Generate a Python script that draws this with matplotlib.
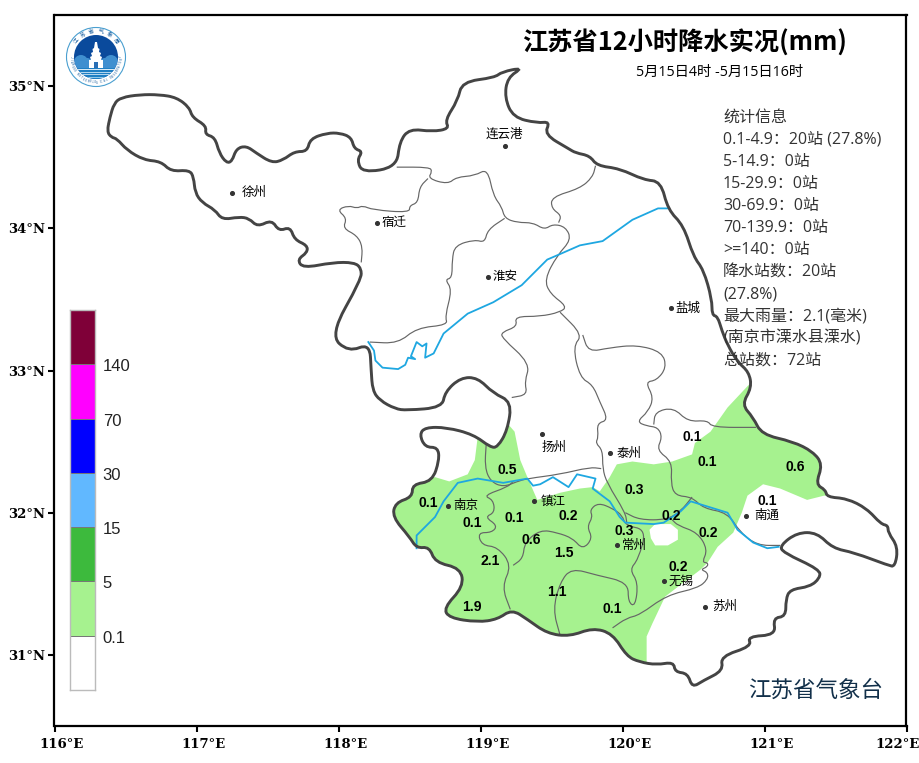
import numpy as np
import matplotlib
matplotlib.use("Agg")
from matplotlib import pyplot as plt
from matplotlib.path import Path
from matplotlib.patches import PathPatch, Circle, Polygon, Rectangle
from matplotlib.transforms import ScaledTranslation

plt.rcParams['font.family'] = ['Noto Sans CJK SC', 'DejaVu Sans']

# province outline (lon, lat)
province = [
    (116.37, 34.68), (116.39, 34.78), (116.42, 34.88), (116.47, 34.92), (116.60, 34.94), (116.74, 34.94),
    (116.86, 34.92), (116.95, 34.85), (116.97, 34.78), (117.07, 34.72), (117.06, 34.66), (117.13, 34.64),
    (117.16, 34.53), (117.21, 34.46), (117.25, 34.47), (117.28, 34.56), (117.35, 34.58), (117.42, 34.53),
    (117.53, 34.46), (117.61, 34.48), (117.69, 34.54), (117.78, 34.54), (117.80, 34.63), (117.92, 34.67),
    (118.01, 34.67), (118.09, 34.64), (118.11, 34.56), (118.17, 34.54), (118.13, 34.48), (118.17, 34.39),
    (118.41, 34.43), (118.43, 34.61), (118.50, 34.70), (118.66, 34.68), (118.78, 34.70), (118.75, 34.76),
    (118.84, 34.90), (118.87, 35.03), (119.10, 35.06), (119.15, 35.10), (119.30, 35.13), (119.19, 35.06),
    (119.17, 34.92), (119.23, 34.78), (119.40, 34.74), (119.49, 34.75), (119.45, 34.66), (119.62, 34.56),
    (119.67, 34.53), (119.77, 34.51), (119.82, 34.44), (119.98, 34.42), (120.15, 34.34), (120.27, 34.33),
    (120.32, 34.13), (120.43, 34.02), (120.50, 33.80), (120.57, 33.71), (120.63, 33.50), (120.63, 33.39),
    (120.67, 33.38), (120.70, 33.28), (120.74, 33.18), (120.81, 33.06), (120.89, 32.99), (120.91, 32.88),
    (120.84, 32.76), (120.92, 32.67), (120.98, 32.55), (121.20, 32.50), (121.34, 32.43), (121.41, 32.34),
    (121.36, 32.20), (121.43, 32.16), (121.44, 32.11), (121.58, 32.10), (121.72, 32.03), (121.82, 31.92),
    (121.87, 31.91), (121.87, 31.86), (121.94, 31.76), (121.92, 31.62), (121.87, 31.63), (121.63, 31.72),
    (121.48, 31.75), (121.37, 31.86), (121.23, 31.86), (121.11, 31.77), (121.13, 31.72), (121.39, 31.60),
    (121.39, 31.54), (121.32, 31.48), (121.18, 31.46), (121.15, 31.39), (121.15, 31.27), (121.06, 31.26),
    (121.08, 31.14), (120.88, 31.13), (120.91, 31.06), (120.69, 30.99), (120.71, 30.89), (120.57, 30.82),
    (120.49, 30.77), (120.46, 30.87), (120.37, 30.88), (120.36, 30.95), (120.24, 30.93), (120.12, 30.95),
    (120.03, 30.99), (119.93, 31.15), (119.79, 31.19), (119.63, 31.13), (119.47, 31.15), (119.33, 31.25),
    (119.22, 31.32), (119.12, 31.25), (118.98, 31.23), (118.78, 31.26), (118.74, 31.33), (118.88, 31.48),
    (118.86, 31.61), (118.68, 31.65), (118.64, 31.76), (118.55, 31.75), (118.50, 31.83), (118.38, 31.97),
    (118.40, 32.07), (118.52, 32.11), (118.52, 32.20), (118.66, 32.22), (118.71, 32.37), (118.70, 32.46),
    (118.61, 32.46), (118.57, 32.55), (118.61, 32.60), (118.76, 32.60), (118.95, 32.55), (119.07, 32.46),
    (119.12, 32.46), (119.19, 32.58), (119.22, 32.78), (119.09, 32.84), (118.98, 32.95), (118.86, 32.95),
    (118.75, 32.85), (118.73, 32.74), (118.48, 32.72), (118.40, 32.73), (118.29, 32.79), (118.24, 32.86),
    (118.23, 33.00), (118.22, 33.19), (118.07, 33.13), (117.94, 33.25), (118.16, 33.64), (118.16, 33.72),
    (118.11, 33.76), (117.96, 33.76), (117.75, 33.72), (117.71, 33.78), (117.78, 33.83), (117.78, 33.88),
    (117.69, 33.92), (117.66, 34.01), (117.58, 33.98), (117.53, 34.06), (117.43, 34.01), (117.37, 34.07),
    (117.30, 34.08), (117.18, 34.06), (117.13, 34.13), (117.04, 34.18), (116.99, 34.25), (116.98, 34.36),
    (116.95, 34.41), (116.82, 34.40), (116.75, 34.47), (116.63, 34.48), (116.51, 34.55), (116.44, 34.63),
    (116.40, 34.64),
]

# prefecture boundaries
city_lines = [
    [(118.41, 34.43), (118.64, 34.43), (118.66, 34.40), (118.63, 34.35), (118.77, 34.31), (118.83, 34.36),
     (118.96, 34.37), (119.05, 34.42), (119.09, 34.23), (119.15, 34.15), (119.17, 34.07), (119.26, 34.04),
     (119.37, 34.04), (119.45, 33.99), (119.51, 34.03), (119.60, 34.01), (119.64, 33.92), (119.54, 33.81),
     (119.45, 33.64), (119.49, 33.54), (119.61, 33.45), (119.56, 33.41), (119.42, 33.38), (119.24, 33.38),
     (119.26, 33.31), (119.15, 33.27), (119.15, 33.23), (119.35, 33.05), (119.31, 32.92), (119.33, 32.83),
     (119.22, 32.81)],
    [(119.81, 34.44), (119.79, 34.36), (119.70, 34.28), (119.50, 34.22), (119.50, 34.14), (119.57, 34.09),
     (119.55, 34.04)],
    [(118.63, 34.35), (118.57, 34.29), (118.56, 34.18), (118.50, 34.16), (118.50, 34.11), (118.24, 34.13),
     (118.17, 34.16), (118.13, 34.14), (118.07, 34.16), (117.99, 34.13), (118.06, 34.07), (118.03, 34.00),
     (118.13, 33.95), (118.17, 33.87), (118.16, 33.76)],
    [(119.17, 34.07), (119.05, 33.99), (119.03, 33.90), (118.96, 33.92), (118.82, 33.88), (118.80, 33.78),
     (118.80, 33.65), (118.75, 33.64), (118.80, 33.57), (118.75, 33.38), (118.77, 33.32), (118.55, 33.30),
     (118.42, 33.19), (118.22, 33.20)],
    [(119.56, 33.41), (119.72, 33.25), (119.65, 33.17), (119.70, 32.95), (119.79, 32.90), (119.84, 32.78),
     (119.90, 32.65), (119.82, 32.63), (119.83, 32.53), (119.81, 32.49), (119.86, 32.44), (119.86, 32.31),
     (119.89, 32.21), (120.02, 32.00), (120.03, 31.93)],
    [(119.04, 32.48), (119.03, 32.32), (119.07, 32.22), (119.16, 32.18), (119.26, 32.22), (119.33, 32.24),
     (119.56, 32.27), (119.77, 32.32), (119.85, 32.31)],
    [(119.72, 33.25), (119.76, 33.13), (119.91, 33.16), (120.10, 33.18), (120.28, 33.13), (120.31, 33.02),
     (120.24, 32.93), (120.16, 32.92), (120.22, 32.81), (120.18, 32.71), (120.10, 32.64), (120.17, 32.61),
     (120.25, 32.60), (120.28, 32.53), (120.24, 32.44), (120.35, 32.36), (120.34, 32.21), (120.37, 32.12),
     (120.49, 32.11), (120.57, 32.03), (120.74, 32.00), (120.83, 31.86), (120.95, 31.77), (121.11, 31.77)],
    [(120.22, 32.62), (120.23, 32.71), (120.36, 32.74), (120.46, 32.64), (120.60, 32.65), (120.63, 32.60),
     (120.94, 32.60)],
    [(119.23, 32.22), (119.19, 32.18), (119.02, 32.12), (119.09, 32.09), (119.10, 32.00), (119.03, 31.97),
     (119.12, 31.91), (119.08, 31.86), (118.98, 31.86), (119.01, 31.77), (119.12, 31.76), (119.22, 31.63),
     (119.15, 31.48), (119.21, 31.32)],
    [(119.23, 31.63), (119.30, 31.68), (119.31, 31.79), (119.42, 31.88), (119.54, 31.86), (119.65, 31.82),
     (119.72, 31.74), (119.79, 31.82), (119.75, 31.90), (119.79, 31.97), (119.77, 32.02), (119.83, 32.07),
     (119.93, 32.03), (120.00, 31.98), (120.02, 31.91), (120.17, 31.88), (120.11, 31.67), (120.05, 31.60),
     (120.11, 31.51), (120.09, 31.34), (120.04, 31.37), (120.04, 31.51), (119.82, 31.56), (119.64, 31.61),
     (119.56, 31.51), (119.51, 31.32), (119.56, 31.14)],
    [(119.93, 31.19), (120.03, 31.26), (120.12, 31.28), (120.31, 31.42), (120.53, 31.47), (120.60, 31.53),
     (120.60, 31.58), (120.55, 31.60), (120.60, 31.62), (120.60, 31.65), (120.56, 31.65), (120.60, 31.74),
     (120.53, 31.86), (120.39, 31.91), (120.35, 31.95)],
    [(120.02, 32.00), (120.12, 31.95), (120.31, 31.95), (120.41, 32.01), (120.49, 32.11)],
]

# rivers
yangtze = [
    (118.55, 31.75), (118.55, 31.84), (118.68, 31.97), (118.74, 32.08), (118.84, 32.21), (118.98, 32.24),
    (119.16, 32.21), (119.33, 32.24), (119.37, 32.19), (119.42, 32.20), (119.51, 32.25), (119.62, 32.18),
    (119.68, 32.27), (119.81, 32.24), (119.79, 32.17), (119.91, 32.08), (119.98, 31.97), (120.02, 31.93),
    (120.22, 31.92), (120.29, 31.93), (120.41, 32.01), (120.48, 32.08), (120.74, 32.00), (120.81, 31.88),
    (120.92, 31.79), (121.02, 31.75), (121.10, 31.76),
]
huaihe = [
    (120.32, 34.14), (120.25, 34.14), (120.07, 34.06), (119.86, 33.91), (119.70, 33.88), (119.54, 33.81),
    (119.47, 33.78), (119.29, 33.60), (119.09, 33.48), (118.91, 33.40), (118.74, 33.26), (118.67, 33.12),
    (118.61, 33.09), (118.62, 33.19), (118.59, 33.17), (118.55, 33.20), (118.51, 33.10), (118.54, 33.08),
    (118.49, 33.09), (118.47, 33.04), (118.42, 33.01), (118.31, 33.02), (118.26, 33.07), (118.25, 33.14),
    (118.21, 33.20),
]

# 0.1-5 mm rain area and the dry hole inside it
rain_area = [
    (118.33, 32.23), (118.68, 32.25), (118.78, 32.22), (118.91, 32.27), (118.96, 32.37), (118.98, 32.53),
    (119.00, 32.65), (119.17, 32.65), (119.24, 32.57), (119.28, 32.37), (119.33, 32.25), (119.40, 32.09),
    (119.56, 32.14), (119.70, 32.17), (119.79, 32.18), (119.84, 32.15), (119.91, 32.25), (119.96, 32.34),
    (120.07, 32.36), (120.22, 32.34), (120.35, 32.36), (120.49, 32.41), (120.51, 32.49), (120.62, 32.57),
    (120.74, 32.74), (120.89, 32.90), (121.04, 32.86), (121.53, 32.30), (121.46, 32.12), (121.42, 32.12),
    (121.30, 32.09), (121.11, 32.17), (120.99, 32.20), (120.88, 32.12), (120.84, 32.00), (120.78, 31.86),
    (120.67, 31.76), (120.60, 31.65), (120.55, 31.60), (120.30, 31.41), (120.21, 31.22), (120.17, 31.13),
    (120.17, 30.82), (118.43, 30.82), (118.29, 32.09),
]
dry_hole = [
    (120.19, 31.88), (120.23, 31.92), (120.34, 31.92), (120.39, 31.88), (120.39, 31.81), (120.32, 31.77),
    (120.23, 31.77), (120.20, 31.82),
]

city_names = ['连云港', '徐州', '宿迁', '淮安', '盐城', '扬州', '泰州', '南京', '镇江', '常州', '无锡', '苏州', '南通']
city_lon = [119.17, 117.25, 118.27, 119.05, 120.34, 119.43, 119.91, 118.77, 119.38, 119.96, 120.29, 120.58, 120.87]
city_lat = [34.58, 34.25, 34.04, 33.66, 33.44, 32.55, 32.42, 32.05, 32.08, 31.77, 31.52, 31.34, 31.98]

rain_vals = [0.5, 0.1, 0.1, 0.1, 0.2, 0.6, 1.5, 2.1, 1.9, 1.1, 0.1, 0.3, 0.2, 0.3, 0.2, 0.2, 0.1, 0.1, 0.6, 0.1]
rain_lon = [119.19, 118.63, 118.94, 119.24, 119.62, 119.36, 119.59, 119.07, 118.94, 119.54, 119.93, 120.08,
            120.34, 120.01, 120.60, 120.39, 120.49, 120.60, 121.22, 121.02]
rain_lat = [32.30, 32.07, 31.93, 31.96, 31.98, 31.81, 31.72, 31.66, 31.34, 31.44, 31.32, 32.16,
            31.98, 31.87, 31.86, 31.62, 32.53, 32.36, 32.32, 32.08]

level_labels = ['0.1', '5', '15', '30', '70', '140']
level_colors = ['#ffffff', '#a6f28f', '#3dba3d', '#61b8ff', '#0000ff', '#ff00ff', '#7f0038']

stats_lines = [
    '统计信息', '0.1-4.9：20站 (27.8%)', '5-14.9：0站', '15-29.9：0站', '30-69.9：0站', '70-139.9：0站',
    '>=140：0站', '降水站数：20站', '(27.8%)', '最大雨量：2.1(毫米)', '(南京市溧水县溧水)', '总站数：72站',
]

W, H = 920, 763
TEXT_FONT = ['Open Sans', 'Noto Sans CJK SC']


def smooth_path(points, closed=False):
    # quadratic curves through the midpoints, so the traced borders do not look angular
    pts = np.array(points, dtype=float)
    if closed:
        pts = np.vstack([pts, pts[:2]])
    mids = (pts[:-1] + pts[1:]) / 2
    if closed:
        verts = [mids[0]]
    else:
        verts = [pts[0], mids[0]]
    codes = [Path.MOVETO] if closed else [Path.MOVETO, Path.LINETO]
    for i in range(1, len(mids)):
        verts += [pts[i], mids[i]]
        codes += [Path.CURVE3, Path.CURVE3]
    if not closed:
        verts.append(pts[-1])
        codes.append(Path.LINETO)
    return Path(verts, codes)


def draw_map(ax):
    border = PathPatch(smooth_path(province, closed=True), fc='white', ec='none', zorder=0)
    ax.add_patch(border)

    rain = Polygon(rain_area, closed=True, fc=level_colors[1], ec='none', zorder=1)
    hole = Polygon(dry_hole, closed=True, fc='white', ec='none', zorder=1.1)
    ax.add_patch(rain)
    ax.add_patch(hole)
    rain.set_clip_path(border)
    hole.set_clip_path(border)

    for line in city_lines:
        ax.add_patch(PathPatch(smooth_path(line), fc='none', ec='#666666', lw=0.85, zorder=2))
    for river in (yangtze, huaihe):
        xs, ys = zip(*river)
        ax.plot(xs, ys, color='#1ea7e1', lw=1.3, zorder=3)
    ax.add_patch(PathPatch(smooth_path(province, closed=True), fc='none', ec='#444444', lw=2.1, zorder=4))


def draw_labels(ax):
    ax.scatter(city_lon, city_lat, s=7, color='#333333', zorder=5)
    # gap in degrees between the dot and its name
    gaps = {'徐州': 0.07, '苏州': 0.05, '南通': 0.055, '泰州': 0.045, '镇江': 0.045}
    for name, lon, lat in zip(city_names, city_lon, city_lat):
        if name == '连云港':
            ax.text(lon, lat + 0.08, name, fontsize=9, ha='center', va='center', zorder=6)
        elif name == '扬州':
            ax.text(lon + 0.09, lat - 0.09, name, fontsize=9, ha='center', va='center', zorder=6)
        else:
            ax.text(lon + gaps.get(name, 0.035), lat, name, fontsize=9, ha='left', va='center', zorder=6)
    for val, lon, lat in zip(rain_vals, rain_lon, rain_lat):
        ax.text(lon, lat, f'{val:.1f}', fontsize=10, fontweight='bold', family='Liberation Sans',
                ha='center', va='center', zorder=6)


def draw_colorbar(fig):
    cax = fig.add_axes([70 / W, 1 - 690 / H, 25 / W, 380 / H])
    heights = np.ones(len(level_colors))
    bottoms = np.arange(len(level_colors))
    cax.bar(0, heights, bottom=bottoms, width=1, color=level_colors, edgecolor='#777777', linewidth=0.7)
    cax.set_xlim(-0.5, 0.5)
    cax.set_ylim(0, len(level_colors))
    cax.set_xticks([])
    cax.yaxis.tick_right()
    cax.set_yticks(bottoms[1:], level_labels, family='Liberation Sans', fontsize=12, color='#222222')
    cax.tick_params(axis='y', length=0, pad=5.5)
    down = ScaledTranslation(0, -1 / 100, fig.dpi_scale_trans)
    for lab in cax.get_yticklabels():
        lab.set_transform(lab.get_transform() + down)
    for side in cax.spines.values():
        side.set_color('#bbbbbb')
        side.set_linewidth(1)


def draw_logo(fig):
    lax = fig.add_axes([63 / W, 1 - 90 / H, 66 / W, 66 / H])
    lax.set_xlim(-33, 33)
    lax.set_ylim(-33, 33)
    lax.axis('off')
    lax.add_patch(Circle((0, 0), 29.5, fc='white', ec='#4a9fd0', lw=0.8))
    lax.add_patch(Circle((0, 0), 22, fc='#0a4a9c', ec='none'))
    clip = Circle((0, 0), 22, transform=lax.transData)
    # clouds and water
    for cx, cy, r in [(-15, -5, 7), (15, -5, 7), (-9, -7, 6), (9, -7, 6)]:
        lax.add_patch(Circle((cx, cy), r, fc='#3f8fd0', ec='none', clip_path=clip))
    lax.add_patch(Rectangle((-22, -22), 44, 11, fc='#1f7fc4', ec='none', clip_path=clip))
    for y, col in [(-12, 'white'), (-14.5, '#cfe8f7'), (-17, '#cfe8f7'), (-19.5, '#a8d8f0')]:
        lax.plot([-20, 20], [y, y], color=col, lw=0.6, clip_path=clip)
    # pagoda
    lax.add_patch(Polygon([(-7, -11), (7, -11), (7, -3), (5, -3), (6, 0), (4, 1), (5, 4), (3, 5), (3.5, 8), (2, 9),
                           (1, 15), (-1, 15), (-2, 9), (-3.5, 8), (-3, 5), (-5, 4), (-4, 1), (-6, 0), (-5, -3),
                           (-7, -3)], fc='white', ec='none'))
    lax.add_patch(Rectangle((-2, -11), 4, 6, fc='#2a6fb5', ec='none'))
    chars = '江苏省气象局'
    for ch, deg in zip(chars, np.linspace(140, 40, len(chars))):
        rad = np.deg2rad(deg)
        lax.text(25.5 * np.cos(rad), 25.5 * np.sin(rad), ch, fontsize=4, color='#1a5fa0', rotation=deg - 90,
                 ha='center', va='center')
    eng = 'JIANGSU METEOROLOGICAL OBSERVATORY'
    for ch, deg in zip(eng, np.linspace(-180, 0, len(eng))):
        rad = np.deg2rad(deg)
        lax.text(25.5 * np.cos(rad), 25.5 * np.sin(rad), ch, fontsize=2.2, color='#1a5fa0', rotation=deg + 90,
                 ha='center', va='center')


def main():
    fig = plt.figure(figsize=(W / 100, H / 100), dpi=100)
    ax = fig.add_axes([54.5 / W, 1 - 726 / H, 852 / W, 711 / H])
    ax.set_xlim(116, 122)
    ax.set_ylim(30.5, 35.5)

    draw_map(ax)
    draw_labels(ax)

    ax.set_xticks(range(116, 123), [f'{v}°E' for v in range(116, 123)])
    ax.set_yticks(range(31, 36), [f'{v}°N' for v in range(31, 36)])
    ax.tick_params(length=4, width=1.5, labelsize=9.5)
    ax.tick_params(axis='x', pad=5)
    ax.tick_params(axis='y', pad=2.5)
    # the longitude labels sit a little to the right of their ticks, the last one is pulled back inside
    xlabels = ax.get_xticklabels()
    for i, lab in enumerate(xlabels):
        shift = -9 if i == len(xlabels) - 1 else 7
        lab.set_transform(lab.get_transform() + ScaledTranslation(shift / 100, 0, fig.dpi_scale_trans))
    for lab in xlabels + ax.get_yticklabels():
        lab.set_family('DejaVu Serif')
        lab.set_fontweight('bold')
    for side in ax.spines.values():
        side.set_linewidth(1.6)

    fig.text(685 / W, 1 - 43 / H, '江苏省12小时降水实况(mm)', fontsize=18.2, fontweight='bold',
             ha='center', va='center')
    fig.text(720 / W, 1 - 72 / H, '5月15日4时 -5月15日16时', fontsize=10.3, family=TEXT_FONT, ha='center', va='center')
    for i, line in enumerate(stats_lines):
        fig.text(723 / W, 1 - (117.5 + i * 22.1) / H, line, fontsize=11.5, color='#333333', family=TEXT_FONT,
                 ha='left', va='center', zorder=10)
    fig.text(816 / W, 1 - 690 / H, '江苏省气象台', fontsize=16.2, color='#12304a', ha='center', va='center')

    draw_colorbar(fig)
    draw_logo(fig)

    fig.savefig('out.png', dpi=100)


if __name__ == "__main__":
    main()
